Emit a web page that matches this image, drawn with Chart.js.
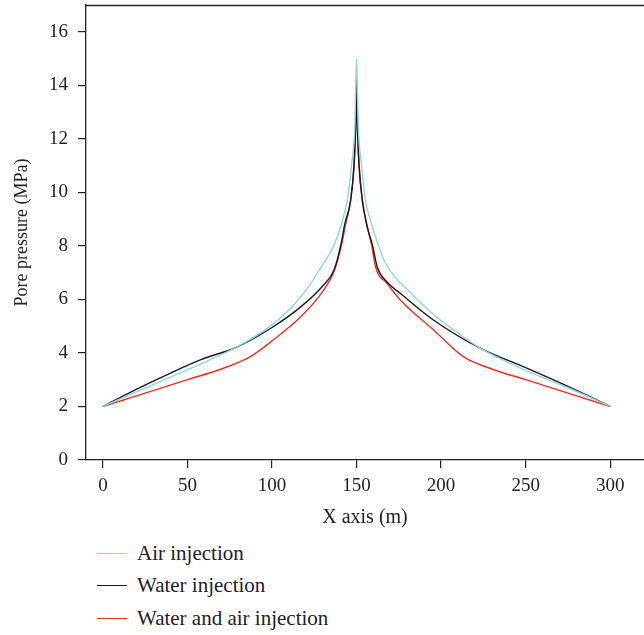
<!DOCTYPE html>
<html lang="en">
<head>
  <meta charset="UTF-8" />
  <title>Pore pressure</title>
  <script src="https://cdn.jsdelivr.net/npm/chart.js"></script>
  <style>
    html, body { margin: 0; padding: 0; background: #fff; overflow: hidden; }
    #wrap { position: relative; width: 644px; height: 535px; }
    #legend { position: absolute; left: 0; top: 535px; width: 644px; height: 100px;
              font-family: "Liberation Serif", "DejaVu Serif", serif; font-size: 21px; color: #222; }
    .row { position: absolute; left: 97px; height: 24px; }
    .row .ln { position: absolute; left: 0; top: 12px; width: 30px; height: 0; border-top: 1.4px solid; }
    .row .tx { position: absolute; left: 40px; top: 0; line-height: 24px; white-space: nowrap; }
  </style>
</head>
<body>
  <div id="wrap"><canvas id="chart"></canvas></div>
  <div id="legend"></div>

  <script>
    // values
    const labels = ['Air injection', 'Water injection', 'Water and air injection'];
    const colors = ['#8dd6e6', '#1a1a1a', '#e8321f'];

    const airX = [0, 20, 40, 60, 80, 100, 110, 117, 123, 129, 133, 136.5, 141, 144.5, 147, 149, 150,
                  151, 153, 155.3, 159, 163, 167.2, 174, 182, 190, 199.6, 210, 223.3, 250, 275, 300];
    const airY = [2, 2.55, 3.1, 3.65, 4.25, 5.05, 5.6, 6.1, 6.6, 7.2, 7.6, 8.0, 8.8, 9.7, 11, 12.5, 15,
                  12.5, 11, 9.7, 8.8, 8.0, 7.35, 6.75, 6.25, 5.75, 5.22, 4.75, 4.17, 3.35, 2.7, 2];

    const waterX = [0, 20, 40, 58, 79.5, 100, 117, 130, 136.6, 140.6, 143, 146.5, 148.5, 149.5, 150,
                    150.5, 151.5, 153.4, 156, 159.5, 162.3, 168, 176, 195.7, 223.3, 250, 275, 300];
    const waterY = [2, 2.65, 3.25, 3.75, 4.23, 4.95, 5.72, 6.5, 7.09, 8.0, 8.8, 9.7, 11, 12.5, 14.3,
                    12.5, 11, 9.7, 8.8, 8.0, 7.2, 6.65, 6.22, 5.22, 4.17, 3.45, 2.75, 2];

    const mixX = [0, 25, 50, 70, 87, 100, 117, 130, 137, 141, 143.5, 146.5, 148.5, 149.5, 150,
                  150.5, 151.5, 153.5, 156, 159, 161.3, 168, 176, 195.7, 213.4, 230, 250, 275, 300];
    const mixY = [2, 2.5, 3.0, 3.4, 3.85, 4.45, 5.35, 6.3, 7.1, 8.0, 8.8, 9.7, 11, 12.5, 13.8,
                  12.5, 11, 9.7, 8.8, 8.0, 7.2, 6.6, 5.97, 4.85, 3.85, 3.4, 3.0, 2.5, 2];

    const xTicks = [0, 50, 100, 150, 200, 250, 300];
    const yTicks = [0, 2, 4, 6, 8, 10, 12, 14, 16];

    const pts = (xs, ys) => xs.map((x, i) => ({ x: x, y: ys[i] }));
    const series = [pts(airX, airY), pts(waterX, waterY), pts(mixX, mixY)];

    const font = '"Liberation Serif", "DejaVu Serif", serif';

    const topBorder = {
      id: 'topBorder',
      afterDraw(chart) {
        const a = chart.chartArea, c = chart.ctx;
        c.save();
        c.strokeStyle = '#222';
        c.lineWidth = 1.3;
        c.beginPath();
        c.moveTo(a.left, a.top + 0.5);
        c.lineTo(a.right, a.top + 0.5);
        c.stroke();
        c.restore();
      }
    };

    const axisStyle = {
      grid: { display: true, drawOnChartArea: false, drawTicks: true, tickLength: 8, color: '#222', lineWidth: 1.2 },
      border: { display: true, color: '#222', width: 1.3 }
    };

    new Chart(document.getElementById('chart'), {
      type: 'scatter',
      data: {
        datasets: series.map((d, i) => ({
          label: labels[i],
          data: d,
          showLine: true,
          borderColor: colors[i],
          borderWidth: 1.4,
          pointRadius: 0,
          cubicInterpolationMode: 'monotone',
          fill: false
        }))
      },
      options: {
        responsive: true,
        maintainAspectRatio: false,
        animation: false,
        layout: { padding: { top: 5, right: 0, left: 0, bottom: 0 } },
        plugins: { legend: { display: false }, tooltip: { enabled: false } },
        scales: {
          x: {
            type: 'linear', min: -10, max: 320,
            ...axisStyle,
            afterBuildTicks: s => { s.ticks = xTicks.map(v => ({ value: v })); },
            afterFit: s => { s.height = 75; s.paddingLeft = 0; s.paddingRight = 0; },
            ticks: { color: '#222', font: { family: font, size: 19 }, padding: 7, maxRotation: 0 },
            title: { display: true, text: 'X axis (m)', color: '#222', font: { family: font, size: 20 },
                     padding: { top: 0, bottom: 5 } }
          },
          y: {
            type: 'linear', min: 0, max: 17,
            ...axisStyle,
            afterBuildTicks: s => { s.ticks = yTicks.map(v => ({ value: v })); },
            afterFit: s => { s.width = 86; s.paddingTop = 0; s.paddingBottom = 0; },
            ticks: { color: '#222', font: { family: font, size: 19 }, padding: 10 },
            title: { display: true, text: 'Pore pressure (MPa)', color: '#222', font: { family: font, size: 18 },
                     padding: { top: 11, bottom: 0 } }
          }
        }
      },
      plugins: [topBorder]
    });

    // legend below the plot
    const legend = document.getElementById('legend');
    const rowTops = [6, 38, 71];
    labels.forEach((t, i) => {
      const r = document.createElement('div');
      r.className = 'row';
      r.style.top = rowTops[i] + 'px';
      r.innerHTML = '<span class="ln" style="border-color:' + colors[i] + '"></span><span class="tx"></span>';
      r.querySelector('.tx').textContent = t;
      legend.appendChild(r);
    });
  </script>
</body>
</html>
